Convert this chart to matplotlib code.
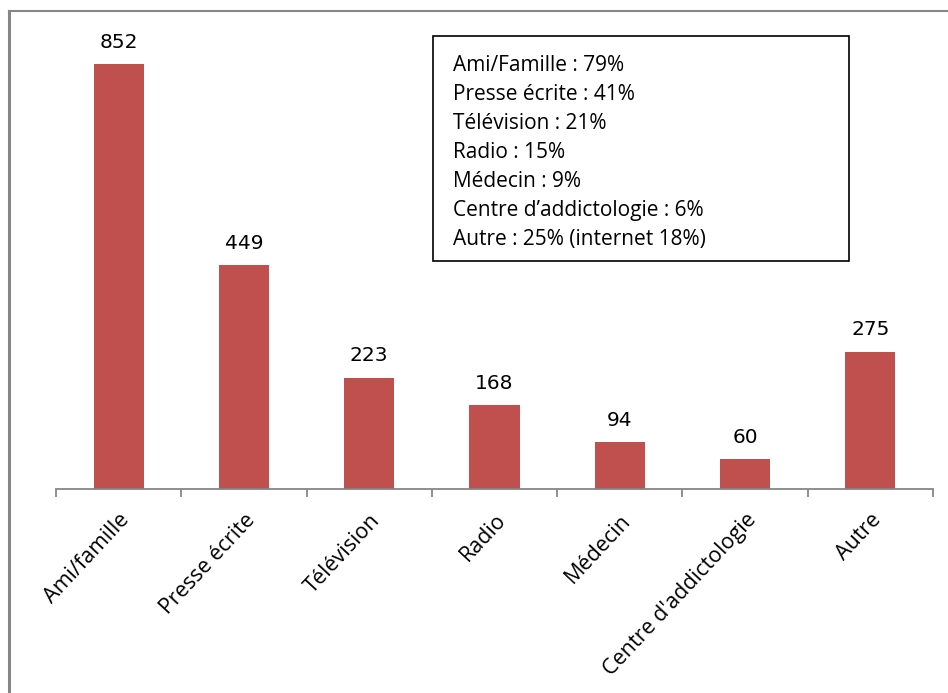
import numpy as np
import matplotlib.pyplot as plt
from matplotlib.lines import Line2D

# data
categories = ['Ami/famille', 'Presse écrite', 'Télévision', 'Radio',
              'Médecin', "Centre d'addictologie", 'Autre']
counts = [852, 449, 223, 168, 94, 60, 275]
box_lines = ['Ami/Famille : 79%', 'Presse écrite : 41%', 'Télévision : 21%',
             'Radio : 15%', 'Médecin : 9%', 'Centre d’addictologie : 6%',
             'Autre : 25% (internet 18%)']

W, H = 948, 693
fig = plt.figure(figsize=(W / 100, H / 100), dpi=100)
ax = fig.add_axes([56 / W, 1 - 489 / H, (933 - 56) / W, (489 - 11) / H])

x = np.arange(len(categories))
ax.bar(x, counts, width=0.4, color='#C0504D')
ax.set_xlim(-0.5, len(categories) - 0.5)
ax.set_ylim(0, 852 * (489 - 11) / (489 - 64))

for xi, v in zip(x, counts):
    ax.annotate(str(v), (xi, v), xytext=(0, 9), textcoords='offset points',
                ha='center', va='bottom', fontsize=14.5, family='DejaVu Sans')

for s in ['top', 'right', 'left']:
    ax.spines[s].set_visible(False)
ax.spines['bottom'].set_color('#868686')
ax.spines['bottom'].set_linewidth(1.3)
ax.set_yticks([])
ax.set_xticks(np.arange(-0.5, len(categories)), labels=[])
ax.tick_params(axis='x', which='major', length=6, color='#868686', width=1.3)
ax.set_xticks(x, minor=True)
ax.set_xticklabels(categories, minor=True, rotation=47, ha='right',
                   rotation_mode='anchor', fontsize=15.5, family='Open Sans')
ax.tick_params(axis='x', which='minor', length=0, pad=15)

# text box
txt = '\n'.join(box_lines)
fig.text(453 / W, 1 - 55 / H, txt, ha='left', va='top', fontsize=15,
         family='Open Sans', linespacing=1.5)
fig.add_artist(plt.Rectangle((433 / W, 1 - 261 / H), (849 - 433) / W,
                             (261 - 36) / H, transform=fig.transFigure,
                             fill=False, edgecolor='black', linewidth=1.2))

# outer border (left and top edges)
fig.add_artist(Line2D([9 / W, 9 / W], [0, 1 - 11 / H], color='#868686', lw=2.2,
                      transform=fig.transFigure))
fig.add_artist(Line2D([9 / W, 1], [1 - 11 / H, 1 - 11 / H], color='#868686', lw=1.5,
                      transform=fig.transFigure))

fig.savefig('out.png', dpi=100)
